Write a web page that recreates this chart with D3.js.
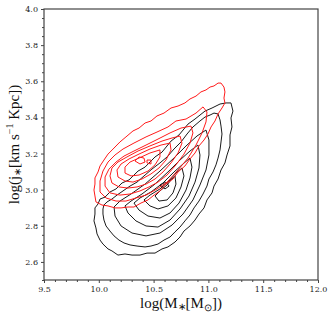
<!DOCTYPE html>
<html><head><meta charset="utf-8">
<script src="https://cdn.jsdelivr.net/npm/d3@7"></script>
<style>body{margin:0;background:#fff}svg{display:block}</style>
</head><body>
<script>
// axis ticks
const xMajor = [9.5, 10.0, 10.5, 11.0, 11.5, 12.0];
const yMajor = [2.6, 2.8, 3.0, 3.2, 3.4, 3.6, 3.8, 4.0];
const xMinor = [9.6,9.7,9.8,9.9,10.1,10.2,10.3,10.4,10.6,10.7,10.8,10.9,11.1,11.2,11.3,11.4,11.6,11.7,11.8,11.9];
const yMinor = [2.5,2.55,2.65,2.7,2.75,2.85,2.9,2.95,3.05,3.1,3.15,3.25,3.3,3.35,3.45,3.5,3.55,3.65,3.7,3.75,3.85,3.9,3.95];

// black contours (log M*, log j*)
const black1 = [[11.206,3.480],[11.224,3.435],[11.206,3.397],[11.215,3.347],[11.197,3.303],[11.197,3.242],[11.170,3.192],[11.151,3.148],[11.115,3.109],[11.088,3.059],[11.051,3.020],[11.033,2.982],[10.987,2.943],[10.960,2.899],[10.914,2.865],[10.878,2.832],[10.832,2.799],[10.777,2.771],[10.741,2.738],[10.695,2.710],[10.631,2.683],[10.577,2.672],[10.513,2.649],[10.440,2.649],[10.376,2.638],[10.303,2.638],[10.239,2.644],[10.175,2.638],[10.120,2.661],[10.084,2.672],[10.038,2.699],[10.011,2.721],[9.984,2.755],[9.974,2.788],[9.956,2.827],[9.965,2.865],[9.965,2.899],[9.993,2.921],[10.011,2.948],[10.057,2.959],[10.102,2.987],[10.157,3.004],[10.212,3.037],[10.276,3.054],[10.358,3.103],[10.422,3.125],[10.513,3.181],[10.577,3.208],[10.659,3.269],[10.732,3.303],[10.814,3.363],[10.878,3.391],[10.969,3.435],[11.033,3.452],[11.106,3.474],[11.161,3.480]];
const black2 = [[11.088,3.419],[11.106,3.386],[11.115,3.352],[11.124,3.308],[11.115,3.264],[11.106,3.220],[11.088,3.175],[11.069,3.137],[11.042,3.098],[11.005,3.059],[10.987,3.020],[10.951,2.976],[10.914,2.937],[10.869,2.899],[10.832,2.860],[10.786,2.827],[10.741,2.793],[10.695,2.766],[10.650,2.738],[10.595,2.721],[10.540,2.699],[10.476,2.688],[10.422,2.683],[10.349,2.688],[10.285,2.694],[10.230,2.705],[10.184,2.721],[10.139,2.744],[10.102,2.771],[10.066,2.799],[10.047,2.832],[10.038,2.865],[10.038,2.893],[10.047,2.915],[10.075,2.932],[10.120,2.948],[10.166,2.970],[10.221,2.993],[10.285,3.020],[10.349,3.042],[10.422,3.081],[10.485,3.114],[10.558,3.148],[10.623,3.181],[10.686,3.225],[10.750,3.264],[10.805,3.308],[10.859,3.347],[10.923,3.380],[10.969,3.402],[11.015,3.413],[11.051,3.424]];
const black3 = [[10.978,3.330],[11.005,3.275],[11.005,3.192],[10.978,3.109],[10.923,3.026],[10.859,2.943],[10.768,2.865],[10.668,2.804],[10.558,2.760],[10.431,2.744],[10.303,2.760],[10.203,2.799],[10.148,2.854],[10.139,2.904],[10.193,2.937],[10.294,2.976],[10.422,3.031],[10.549,3.098],[10.677,3.170],[10.796,3.242],[10.896,3.297]];
const black4 = [[10.905,3.247],[10.923,3.192],[10.914,3.120],[10.878,3.042],[10.823,2.965],[10.741,2.893],[10.650,2.832],[10.540,2.793],[10.431,2.799],[10.339,2.827],[10.266,2.871],[10.239,2.910],[10.294,2.937],[10.394,2.976],[10.513,3.031],[10.631,3.098],[10.741,3.164],[10.832,3.214]];
const black5 = [[10.832,3.175],[10.850,3.125],[10.832,3.065],[10.796,2.998],[10.732,2.926],[10.650,2.871],[10.558,2.843],[10.449,2.854],[10.367,2.887],[10.321,2.926],[10.376,2.954],[10.476,2.987],[10.586,3.037],[10.686,3.098],[10.768,3.142]];
const black6 = [[10.759,3.120],[10.777,3.076],[10.750,3.015],[10.704,2.954],[10.631,2.910],[10.540,2.893],[10.467,2.910],[10.412,2.943],[10.467,2.970],[10.558,3.004],[10.650,3.054],[10.704,3.092]];
const black7 = [[10.695,3.076],[10.704,3.031],[10.677,2.982],[10.623,2.943],[10.549,2.937],[10.513,2.965],[10.558,2.993],[10.623,3.026],[10.659,3.054]];
const black8 = [[10.558,3.026],[10.613,3.042],[10.641,3.020],[10.604,3.004]];

// red contours
const red1 = [[11.115,3.590],[11.142,3.568],[11.151,3.541],[11.142,3.507],[11.151,3.480],[11.124,3.452],[11.088,3.419],[11.060,3.380],[11.024,3.347],[10.996,3.308],[10.960,3.275],[10.914,3.242],[10.878,3.203],[10.832,3.170],[10.786,3.131],[10.723,3.098],[10.677,3.059],[10.613,3.031],[10.558,2.993],[10.504,2.970],[10.449,2.943],[10.385,2.926],[10.321,2.904],[10.266,2.904],[10.203,2.899],[10.148,2.899],[10.084,2.910],[10.029,2.915],[9.974,2.932],[9.965,2.965],[9.956,2.998],[9.965,3.031],[9.965,3.065],[9.993,3.098],[10.011,3.131],[10.047,3.164],[10.084,3.197],[10.130,3.225],[10.193,3.264],[10.248,3.292],[10.312,3.325],[10.367,3.341],[10.422,3.369],[10.476,3.380],[10.531,3.408],[10.595,3.424],[10.659,3.452],[10.723,3.463],[10.786,3.480],[10.832,3.502],[10.887,3.518],[10.932,3.541],[10.978,3.552],[11.015,3.568],[11.051,3.574],[11.088,3.590]];
const red2 = [[10.951,3.458],[10.987,3.430],[10.978,3.375],[10.942,3.314],[10.887,3.247],[10.814,3.175],[10.723,3.109],[10.623,3.042],[10.531,3.004],[10.431,2.970],[10.339,2.954],[10.248,2.937],[10.157,2.937],[10.066,2.954],[10.011,2.987],[10.011,3.048],[10.038,3.103],[10.084,3.153],[10.148,3.192],[10.221,3.225],[10.321,3.258],[10.431,3.292],[10.531,3.319],[10.631,3.347],[10.704,3.380],[10.796,3.391],[10.887,3.424]];
const red3 = [[10.841,3.352],[10.859,3.314],[10.832,3.258],[10.777,3.197],[10.704,3.137],[10.623,3.081],[10.540,3.042],[10.458,3.015],[10.376,2.993],[10.285,2.976],[10.193,2.970],[10.102,2.982],[10.057,3.020],[10.057,3.070],[10.093,3.114],[10.157,3.153],[10.230,3.186],[10.321,3.214],[10.431,3.247],[10.540,3.280],[10.650,3.314],[10.750,3.341]];
const red4 = [[10.741,3.297],[10.759,3.258],[10.723,3.203],[10.659,3.148],[10.586,3.098],[10.513,3.059],[10.431,3.031],[10.349,3.015],[10.266,3.009],[10.184,3.015],[10.120,3.037],[10.102,3.076],[10.120,3.120],[10.175,3.153],[10.257,3.181],[10.358,3.214],[10.467,3.242],[10.577,3.269],[10.668,3.286]];
const red5 = [[10.650,3.258],[10.659,3.220],[10.613,3.164],[10.549,3.120],[10.476,3.087],[10.394,3.059],[10.312,3.042],[10.239,3.048],[10.175,3.070],[10.166,3.109],[10.203,3.142],[10.276,3.170],[10.367,3.197],[10.467,3.225],[10.568,3.247]];
const red6 = [[10.558,3.220],[10.558,3.181],[10.513,3.137],[10.449,3.103],[10.367,3.081],[10.294,3.076],[10.239,3.092],[10.239,3.125],[10.285,3.153],[10.367,3.175],[10.467,3.203]];
const red7 = [[10.330,3.159],[10.367,3.181],[10.412,3.175],[10.422,3.153],[10.376,3.142]];
const red8 = [[10.440,3.164],[10.476,3.164],[10.476,3.142],[10.440,3.148]];

const blackLevels = [black1, black2, black3, black4, black5, black6, black7, black8];
const redLevels = [red1, red2, red3, red4, red5, red6, red7, red8];

const W = 332, H = 318;
const m = {left: 44, right: 14, top: 9, bottom: 38};
const svg = d3.select("body").append("svg").attr("width", W).attr("height", H);
const x = d3.scaleLinear().domain([9.5, 12.0]).range([m.left, W - m.right]);
const y = d3.scaleLinear().domain([2.5, 4.0]).range([H - m.bottom, m.top]);

const line = d3.line().x(d => x(d[0])).y(d => y(d[1])).curve(d3.curveLinearClosed);

const g = svg.append("g");
g.selectAll("path.blk").data(blackLevels).join("path").attr("class", "blk")
  .attr("d", line).attr("fill", "none").attr("stroke", "#1a1a1a").attr("stroke-width", 1);
g.selectAll("path.red").data(redLevels).join("path").attr("class", "red")
  .attr("d", line).attr("fill", "none").attr("stroke", "#ff1a1a").attr("stroke-width", 1);

const tickFont = "'DejaVu Serif', serif";
function styleAxis(sel) {
  sel.select(".domain").remove();
  sel.selectAll("line").attr("stroke", "#444").attr("stroke-width", 1);
  sel.selectAll("text").attr("font-family", tickFont).attr("font-size", 8).attr("fill", "#222");
}
svg.append("g").attr("transform", `translate(0,${H - m.bottom})`)
  .call(d3.axisBottom(x).tickValues(xMajor).tickFormat(d3.format(".1f")).tickSize(3).tickPadding(3)).call(styleAxis);
svg.append("g").attr("transform", `translate(0,${H - m.bottom})`)
  .call(d3.axisBottom(x).tickValues(xMinor).tickFormat("").tickSize(2)).call(styleAxis);
svg.append("g").attr("transform", `translate(${m.left},0)`)
  .call(d3.axisLeft(y).tickValues(yMajor).tickFormat(d3.format(".1f")).tickSize(3).tickPadding(3)).call(styleAxis);
svg.append("g").attr("transform", `translate(${m.left},0)`)
  .call(d3.axisLeft(y).tickValues(yMinor).tickFormat("").tickSize(2)).call(styleAxis);

svg.append("rect").attr("x", m.left).attr("y", m.top)
  .attr("width", W - m.left - m.right).attr("height", H - m.top - m.bottom)
  .attr("fill", "none").attr("stroke", "#444").attr("stroke-width", 1.2);

const titleFont = "'Liberation Serif', 'Times New Roman', serif";
const xt = svg.append("text").attr("x", (m.left + W - m.right) / 2).attr("y", 308)
  .attr("text-anchor", "middle").attr("font-family", titleFont).attr("font-size", 15).attr("fill", "#111");
xt.append("tspan").text("log(M");
xt.append("tspan").attr("font-size", 10).attr("dy", 2).text("∗");
xt.append("tspan").attr("dy", -2).text("[M");
xt.append("tspan").attr("font-size", 10).attr("dy", 3).text("⊙");
xt.append("tspan").attr("dy", -3).text("])");

const yt = svg.append("text").attr("transform", `translate(19,${(m.top + H - m.bottom) / 2}) rotate(-90)`)
  .attr("text-anchor", "middle").attr("font-family", titleFont).attr("font-size", 15).attr("fill", "#111");
yt.append("tspan").text("log(j");
yt.append("tspan").attr("font-size", 10).attr("dy", 2).text("∗");
yt.append("tspan").attr("dy", -2).text("[km s");
yt.append("tspan").attr("font-size", 10).attr("dy", -6).text("−1");
yt.append("tspan").attr("dy", 6).text(" Kpc])");
</script>
</body></html>
